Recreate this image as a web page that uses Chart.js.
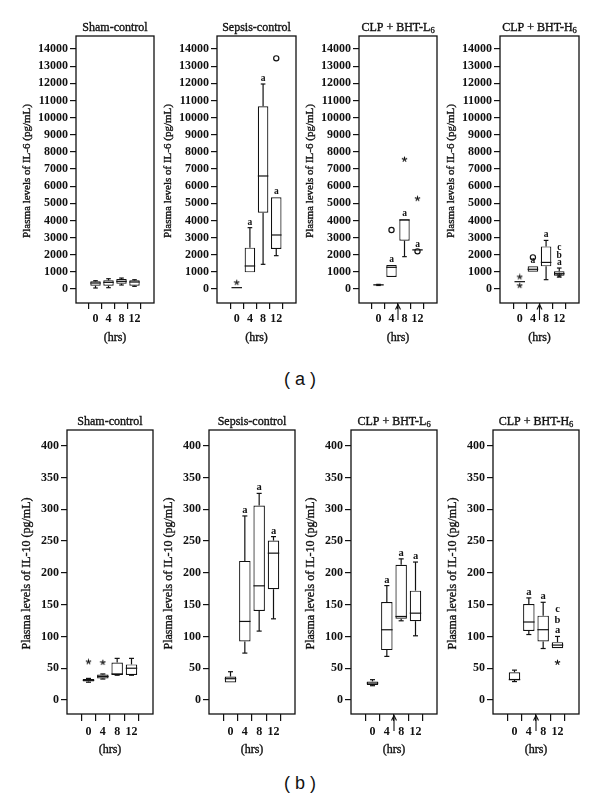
<!DOCTYPE html>
<html>
<head>
<meta charset="utf-8">
<script src="https://cdn.jsdelivr.net/npm/chart.js@4.4.1/dist/chart.umd.min.js"></script>
<style>
  body { margin: 0; background: #fff; width: 600px; height: 808px; position: relative; overflow: hidden; }
  canvas { position: absolute; }
  .lab { position: absolute; width: 80px; text-align: center; font: 18px "Liberation Sans", Arial, sans-serif; color: #111; }
</style>
</head>
<body>
<div class="lab" style="left:260px; top:369px">( a )</div>
<div class="lab" style="left:260px; top:773px">( b )</div>
<script>
const hours = ['0', '4', '8', '12']
const il6Ticks = [0, 1000, 2000, 3000, 4000, 5000, 6000, 7000, 8000, 9000, 10000, 11000, 12000, 13000, 14000]
const il10Ticks = [0, 50, 100, 150, 200, 250, 300, 350, 400]

// IL-6 (pg/mL) - whisker low, Q1, median, Q3, whisker high for 0/4/8/12 hrs
const shamIL6Lo  = [58, 77, 232, 155]
const shamIL6Q1  = [193, 193, 309, 193]
const shamIL6Med = [348, 387, 445, 406]
const shamIL6Q3  = [445, 503, 580, 503]
const shamIL6Hi  = [484, 600, 638, 541]

const sepsisIL6Lo  = [78, 972, 1439, 1944]
const sepsisIL6Q1  = [78, 972, 4453, 2333]
const sepsisIL6Med = [78, 1342, 6592, 3150]
const sepsisIL6Q3  = [78, 2411, 10655, 5347]
const sepsisIL6Hi  = [78, 3578, 11958, 5347]
const sepsisIL6Out = [[3, 13455]]
const sepsisIL6Ext = [[0, 370]]

const lowIL6Lo  = [205, 700, 1886, 2260]
const lowIL6Q1  = [215, 700, 2819, 2260]
const lowIL6Med = [240, 1264, 4025, 2280]
const lowIL6Q3  = [260, 1400, 4064, 2300]
const lowIL6Hi  = [270, 1400, 4064, 2300]
const lowIL6Out = [[1, 3441], [3, 2197]]
const lowIL6Ext = [[2, 7564], [3, 5270]]

const highIL6Lo  = [427, 1010, 544, 700]
const highIL6Q1  = [427, 1010, 1320, 777]
const highIL6Med = [427, 1150, 1550, 893]
const highIL6Q3  = [427, 1320, 2485, 1030]
const highIL6Hi  = [427, 1320, 2835, 1223]
const highIL6Out = [[1, 1845]]
const highIL6Ext = [[0, 700], [0, 194], [3, 800]]

// IL-10 (pg/mL)
const shamIL10Lo  = [28, 33, 39, 39]
const shamIL10Q1  = [29, 34, 39.5, 39.5]
const shamIL10Med = [31, 37, 41, 50]
const shamIL10Q3  = [33, 40, 59, 56]
const shamIL10Hi  = [34, 41, 65.5, 65.5]
const shamIL10Ext = [[0, 60], [1, 59]]

const sepsisIL10Lo  = [27.7, 73.8, 108.4, 127.7]
const sepsisIL10Q1  = [27.7, 92, 140, 174.3]
const sepsisIL10Med = [33.5, 123.6, 179.6, 231]
const sepsisIL10Q3  = [37, 218.8, 306, 250.8]
const sepsisIL10Hi  = [44.5, 289.5, 325, 257]

const lowIL10Lo  = [22.5, 68.6, 124.6, 101]
const lowIL10Q1  = [23.6, 78.5, 127.7, 124]
const lowIL10Med = [26.7, 110.5, 131.4, 136.6]
const lowIL10Q3  = [29.3, 154, 212.6, 172]
const lowIL10Hi  = [32, 180, 222, 217]

const highIL10Lo  = [29, 103, 81, 81.6]
const highIL10Q1  = [31.6, 108.5, 92, 81.6]
const highIL10Med = [32, 122.7, 110.6, 86.4]
const highIL10Q3  = [43.7, 151, 132.7, 91]
const highIL10Hi  = [47, 160.6, 153.7, 100]
const highIL10Ext = [[3, 59]]

// significance letters
const noSig = ['', '', '', '']
const treatSig = ['', 'a', 'a', 'a']
const highSig = ['', 'a', 'a', 'abc']

const serif = '"Liberation Serif", "DejaVu Serif", serif'

const rows = {
  top: { y0: 0, h: 350, ticks: il6Ticks, min: -817, max: 14758, axisTitle: 'Plasma levels of IL-6 (pg/mL)',
         axisSize: 11, tickLen: 6, xPad: 3, letterSize: 9.5, letterGap: 7.5, yTitleOff: 49, hrsOff: 35 },
  bottom: { y0: 400, h: 372, ticks: il10Ticks, min: -22, max: 424.7, axisTitle: 'Plasma levels of IL-10 (pg/mL)',
         axisSize: 12, tickLen: 7, xPad: 4, letterSize: 10.5, letterGap: 10.5, yTitleOff: 40.5, hrsOff: 36 }
}

const panels = [
  { row: 'top', left: 76, right: 154, top: 36, bottom: 303, title: 'Sham-control', sub: '',
    lo: shamIL6Lo, q1: shamIL6Q1, med: shamIL6Med, q3: shamIL6Q3, hi: shamIL6Hi, out: [], ext: [], sig: noSig },
  { row: 'top', left: 217, right: 296, top: 36, bottom: 303, title: 'Sepsis-control', sub: '',
    lo: sepsisIL6Lo, q1: sepsisIL6Q1, med: sepsisIL6Med, q3: sepsisIL6Q3, hi: sepsisIL6Hi, out: sepsisIL6Out, ext: sepsisIL6Ext, sig: treatSig },
  { row: 'top', left: 359, right: 437, top: 36, bottom: 303, title: 'CLP + BHT-L', sub: '6', arrow: true,
    lo: lowIL6Lo, q1: lowIL6Q1, med: lowIL6Med, q3: lowIL6Q3, hi: lowIL6Hi, out: lowIL6Out, ext: lowIL6Ext, sig: treatSig },
  { row: 'top', left: 500, right: 579, top: 36, bottom: 303, title: 'CLP + BHT-H', sub: '6', arrow: true,
    lo: highIL6Lo, q1: highIL6Q1, med: highIL6Med, q3: highIL6Q3, hi: highIL6Hi, out: highIL6Out, ext: highIL6Ext, sig: highSig },
  { row: 'bottom', left: 67, right: 153, top: 430, bottom: 714, title: 'Sham-control', sub: '',
    lo: shamIL10Lo, q1: shamIL10Q1, med: shamIL10Med, q3: shamIL10Q3, hi: shamIL10Hi, out: [], ext: shamIL10Ext, sig: noSig },
  { row: 'bottom', left: 209, right: 295, top: 430, bottom: 714, title: 'Sepsis-control', sub: '',
    lo: sepsisIL10Lo, q1: sepsisIL10Q1, med: sepsisIL10Med, q3: sepsisIL10Q3, hi: sepsisIL10Hi, out: [], ext: [], sig: treatSig },
  { row: 'bottom', left: 351, right: 437, top: 430, bottom: 714, title: 'CLP + BHT-L', sub: '6', arrow: true,
    lo: lowIL10Lo, q1: lowIL10Q1, med: lowIL10Med, q3: lowIL10Q3, hi: lowIL10Hi, out: [], ext: [], sig: treatSig },
  { row: 'bottom', left: 493, right: 579, top: 430, bottom: 714, title: 'CLP + BHT-H', sub: '6', arrow: true,
    lo: highIL10Lo, q1: highIL10Q1, med: highIL10Med, q3: highIL10Q3, hi: highIL10Hi, out: [], ext: highIL10Ext, sig: highSig }
]

// asterisk marker for extreme values
const starImg = document.createElement('canvas')
starImg.width = 7
starImg.height = 7
const sc = starImg.getContext('2d')
sc.strokeStyle = '#111'
sc.lineWidth = 1.1
for (let k = 0; k < 5; k++) {
  const ang = -Math.PI / 2 + k * 2 * Math.PI / 5
  sc.beginPath()
  sc.moveTo(3.5, 3.5)
  sc.lineTo(3.5 + 2.8 * Math.cos(ang), 3.5 + 2.8 * Math.sin(ang))
  sc.stroke()
}

const line = function(ctx, x1, y1, x2, y2) {
  ctx.beginPath()
  ctx.moveTo(x1, y1)
  ctx.lineTo(x2, y2)
  ctx.stroke()
}

// a little heavier than regular, like the semibold labels of the figure
const heavyText = function(ctx, text, x, y) {
  ctx.lineWidth = 0.35
  ctx.strokeText(text, x, y)
  ctx.fillText(text, x, y)
}

//whiskers, medians, frame and texts
const boxExtras = function(p, row) {
  return {
    id: 'boxExtras',
    afterDatasetsDraw(chart) {
      const ctx = chart.ctx
      const xs = chart.scales.x
      const ys = chart.scales.y
      const a = chart.chartArea
      const bars = chart.getDatasetMeta(0).data
      ctx.save()
      ctx.strokeStyle = '#111'
      ctx.fillStyle = '#111'

      p.med.forEach((m, i) => {
        ctx.lineWidth = 1.2
        const cx = xs.getPixelForValue(i)
        const w = bars[i].width
        const cap = w * 0.22
        const yMed = ys.getPixelForValue(m)
        line(ctx, cx - w / 2, yMed, cx + w / 2, yMed)
        if (p.hi[i] > p.q3[i]) {
          const yHi = ys.getPixelForValue(p.hi[i])
          line(ctx, cx, ys.getPixelForValue(p.q3[i]), cx, yHi)
          line(ctx, cx - cap, yHi, cx + cap, yHi)
        }
        if (p.lo[i] < p.q1[i]) {
          const yLo = ys.getPixelForValue(p.lo[i])
          line(ctx, cx, ys.getPixelForValue(p.q1[i]), cx, yLo)
          line(ctx, cx - cap, yLo, cx + cap, yLo)
        }
        const sig = p.sig[i]
        ctx.font = 'bold ' + row.letterSize + 'px ' + serif
        ctx.textAlign = 'center'
        ctx.textBaseline = 'alphabetic'
        for (let k = 0; k < sig.length; k++) {
          ctx.fillText(sig[k], cx, ys.getPixelForValue(p.hi[i]) - 3 - k * row.letterGap)
        }
      })

      ctx.lineWidth = 1.3
      ctx.strokeRect(a.left, a.top, a.right - a.left, a.bottom - a.top)

      // panel title
      const cx = (a.left + a.right) / 2
      ctx.textAlign = 'left'
      ctx.textBaseline = 'alphabetic'
      ctx.font = '12px ' + serif
      const w1 = ctx.measureText(p.title).width
      ctx.font = '8.5px ' + serif
      const w2 = p.sub ? ctx.measureText(p.sub).width : 0
      const tx = cx - (w1 + w2) / 2
      const ty = a.top - 9.5 + 4.2
      ctx.font = '12px ' + serif
      heavyText(ctx, p.title, tx, ty)
      if (p.sub) {
        ctx.font = '8.5px ' + serif
        heavyText(ctx, p.sub, tx + w1, ty + 2.5)
      }

      // x title
      ctx.font = '12px ' + serif
      ctx.textAlign = 'center'
      ctx.textBaseline = 'middle'
      heavyText(ctx, '(hrs)', cx, a.bottom + row.hrsOff)

      // y title
      ctx.save()
      ctx.translate(a.left - row.yTitleOff, (a.top + a.bottom) / 2 + 1.5)
      ctx.rotate(-Math.PI / 2)
      ctx.font = row.axisSize + 'px ' + serif
      heavyText(ctx, row.axisTitle, 0, 0)
      ctx.restore()

      // treatment arrow between 4 and 8 hrs
      if (p.arrow) {
        const ax = xs.getPixelForValue(1.5)
        ctx.lineWidth = 1.1
        line(ctx, ax, a.bottom + 1.5, ax, a.bottom + 17)
        line(ctx, ax, a.bottom + 1.5, ax - 2.5, a.bottom + 6.5)
        line(ctx, ax, a.bottom + 1.5, ax + 2.5, a.bottom + 6.5)
      }
      ctx.restore()
    }
  }
}

const tickFont = { family: serif, size: 12, weight: 'bold' }

const makeChart = function(p) {
  const row = rows[p.row]
  const cv = document.createElement('canvas')
  const cl = p.left - 62
  cv.width = p.right - p.left + 66
  cv.height = row.h
  cv.style.left = cl + 'px'
  cv.style.top = row.y0 + 'px'
  document.body.appendChild(cv)
  const pts = list => list.map(d => ({ x: d[0], y: d[1] }))

  new Chart(cv, {
    type: 'bar',
    data: {
      datasets: [{
        data: p.q1.map((q, i) => ({ x: i, y: [q, p.q3[i]] })),
        backgroundColor: '#fff',
        borderColor: '#111',
        borderWidth: 1.2,
        borderSkipped: false,
        barPercentage: 0.8,
        categoryPercentage: 1,
        order: 2
      }, {
        type: 'scatter',
        data: pts(p.out),
        pointStyle: 'circle',
        pointRadius: 2.6,
        pointBackgroundColor: '#fff',
        pointBorderColor: '#111',
        pointBorderWidth: 1.2,
        order: 1
      }, {
        type: 'scatter',
        data: pts(p.ext),
        pointStyle: starImg,
        order: 0
      }]
    },
    options: {
      responsive: false,
      animation: false,
      events: [],
      layout: {
        autoPadding: false,
        padding: { left: 10, right: 4, top: p.top - row.y0, bottom: row.h - (p.bottom - row.y0) - 32 }
      },
      plugins: { legend: { display: false }, tooltip: { enabled: false } },
      scales: {
        x: {
          type: 'linear', min: -0.75, max: 3.75,
          afterBuildTicks: s => { s.ticks = hours.map((h, i) => ({ value: i })) },
          afterFit: s => { s.height = 32 },
          grid: { drawOnChartArea: false, tickLength: row.tickLen, color: '#111', lineWidth: 1.2 },
          border: { display: false },
          ticks: { callback: v => hours[v], color: '#111', font: tickFont, padding: row.xPad, maxRotation: 0, autoSkip: false }
        },
        y: {
          min: row.min, max: row.max,
          afterBuildTicks: s => { s.ticks = row.ticks.map(v => ({ value: v })) },
          afterFit: s => { s.width = 52 },
          grid: { drawOnChartArea: false, tickLength: 6, color: '#111', lineWidth: 1.2 },
          border: { display: false },
          ticks: { callback: v => String(v), color: '#111', font: tickFont, padding: 2, autoSkip: false }
        }
      }
    },
    plugins: [boxExtras(p, row)]
  })
}

panels.forEach(p => makeChart(p))
</script>
</body>
</html>
